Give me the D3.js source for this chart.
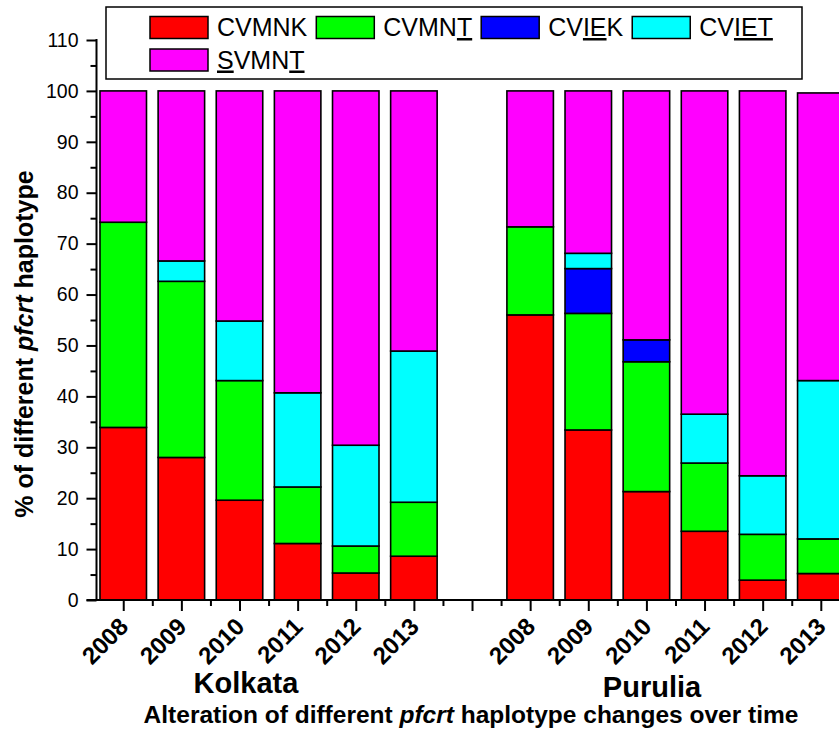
<!DOCTYPE html>
<html>
<head>
<meta charset="utf-8">
<script src="https://cdn.jsdelivr.net/npm/d3@7"></script>
<style>
  body { margin: 0; background: #fff; }
  svg { display: block; font-family: 'Liberation Sans', Arial, sans-serif; }
</style>
</head>
<body>
<svg id="chart" width="839" height="731"></svg>
<script>
// data (% of samples per haplotype)
const years = ['2008', '2009', '2010', '2011', '2012', '2013'];
const sites = ['Kolkata', 'Purulia'];
const haplotypes = ['CVMNK', 'CVMNT', 'CVIEK', 'CVIET', 'SVMNT'];
const cvmnk = [33.9, 28.0, 19.6, 11.1, 5.3, 8.6, 56.0, 33.4, 21.3, 13.5, 3.9, 5.2];
const cvmnt = [40.3, 34.6, 23.5, 11.1, 5.3, 10.6, 17.3, 22.9, 25.5, 13.4, 9.0, 6.8];
const cviek = [0, 0, 0, 0, 0, 0, 0, 8.8, 4.3, 0, 0, 0];
const cviet = [0, 4.0, 11.7, 18.5, 19.8, 29.7, 0, 3.0, 0, 9.6, 11.5, 31.1];
const svmnt = [25.8, 33.4, 45.2, 59.3, 69.6, 51.1, 26.7, 31.9, 48.9, 63.5, 75.6, 56.5];
const yTicks = [0, 10, 20, 30, 40, 50, 60, 70, 80, 90, 100, 110];
// legend text pieces, second field = underlined
const legendParts = {
  CVMNK: [['CVMNK', 0]],
  CVMNT: [['CVMN', 0], ['T', 1]],
  CVIEK: [['CV', 0], ['IE', 1], ['K', 0]],
  CVIET: [['CV', 0], ['IET', 1]],
  SVMNT: [['S', 1], ['VMN', 0], ['T', 1]]
};
const colors = ['#ff0000', '#00ff00', '#0000ff', '#00ffff', '#ff00ff'];

const svg = d3.select('#chart');

// rows: one per bar, slot 1..6 Kolkata, gap, 8..13 Purulia
const rows = [];
sites.forEach((s, si) => {
  years.forEach((yr, yi) => {
    const k = si * years.length + yi;
    rows.push({
      slot: si * (years.length + 1) + yi + 1, year: yr, site: s,
      CVMNK: cvmnk[k], CVMNT: cvmnt[k], CVIEK: cviek[k], CVIET: cviet[k], SVMNT: svmnt[k]
    });
  });
});

const axisX = 96.5;
const pitch = 58.13;
const x = d3.scaleLinear().domain([0.54, 14]).range([axisX, axisX + (14 - 0.54) * pitch]);
const y = d3.scaleLinear().domain([0, 110]).range([600, 40]);
const barW = pitch * 0.8;

const color = d3.scaleOrdinal().domain(haplotypes).range(colors);
const stacked = d3.stack().keys(haplotypes)(rows);

// bars
svg.append('g').selectAll('g')
  .data(stacked)
  .join('g')
  .attr('fill', d => color(d.key))
  .selectAll('rect')
  .data(d => d.filter(p => p[1] - p[0] > 0))
  .join('rect')
  .attr('x', d => x(d.data.slot) - barW / 2)
  .attr('y', d => y(d[1]))
  .attr('width', barW)
  .attr('height', d => y(d[0]) - y(d[1]))
  .attr('stroke', '#000')
  .attr('stroke-width', 1.6);

// y axis
const yAxis = d3.axisLeft(y).tickValues(yTicks).tickSize(10).tickPadding(8);
const gy = svg.append('g').attr('transform', 'translate(' + axisX + ',0)').call(yAxis);
gy.select('.domain').remove();
gy.selectAll('.tick line').attr('stroke-width', 2);
gy.selectAll('.tick text').style('font-size', '19.5px').attr('fill', '#000');
const yMinor = d3.axisLeft(y).tickValues(d3.range(5, 110, 10)).tickSize(6).tickFormat('');
const gym = svg.append('g').attr('transform', 'translate(' + axisX + ',0)').call(yMinor);
gym.select('.domain').remove();
gym.selectAll('.tick line').attr('stroke-width', 2);
svg.append('line')
  .attr('x1', axisX).attr('x2', axisX)
  .attr('y1', y(110) - 1).attr('y2', y(0) + 1)
  .attr('stroke', '#000').attr('stroke-width', 2);

// x axis
const slotLabel = {};
rows.forEach(r => { slotLabel[r.slot] = r.year; });
const xAxis = d3.axisBottom(x).tickValues(d3.range(1, 14)).tickSize(11)
  .tickFormat(d => slotLabel[d] || '');
const gx = svg.append('g').attr('transform', 'translate(0,' + y(0) + ')').call(xAxis);
gx.select('.domain').remove();
gx.selectAll('.tick line').attr('stroke-width', 2);
gx.selectAll('.tick text')
  .attr('y', 0).attr('dy', 0)
  .attr('transform', 'translate(6,28) rotate(-45)')
  .attr('text-anchor', 'end')
  .style('font-size', '24px').style('font-weight', 'bold').attr('fill', '#000');
const xMinor = d3.axisBottom(x).tickValues(d3.range(1.5, 14, 1)).tickSize(6).tickFormat('');
const gxm = svg.append('g').attr('transform', 'translate(0,' + y(0) + ')').call(xMinor);
gxm.select('.domain').remove();
gxm.selectAll('.tick line').attr('stroke-width', 2);
svg.append('line')
  .attr('x1', axisX - 10).attr('x2', 839)
  .attr('y1', y(0)).attr('y2', y(0))
  .attr('stroke', '#000').attr('stroke-width', 2);

// site names
svg.append('text').attr('x', 246).attr('y', 693).attr('text-anchor', 'middle')
  .style('font-size', '29px').style('font-weight', 'bold').text(sites[0]);
svg.append('text').attr('x', 652).attr('y', 697).attr('text-anchor', 'middle')
  .style('font-size', '29px').style('font-weight', 'bold').text(sites[1]);

// bottom caption
const cap = svg.append('text').attr('x', 471).attr('y', 723).attr('text-anchor', 'middle')
  .style('font-size', '24.5px').style('font-weight', 'bold');
cap.append('tspan').text('Alteration of different ');
cap.append('tspan').style('font-style', 'italic').text('pfcrt');
cap.append('tspan').text(' haplotype changes over time');

// y title
const yt = svg.append('text').attr('transform', 'translate(33,344) rotate(-90)')
  .attr('text-anchor', 'middle')
  .style('font-size', '25px').style('font-weight', 'bold');
yt.append('tspan').text('% of different ');
yt.append('tspan').style('font-style', 'italic').text('pfcrt');
yt.append('tspan').text(' haplotype');

// legend
svg.append('rect').attr('x', 106).attr('y', 7).attr('width', 696).attr('height', 72)
  .attr('fill', '#fff').attr('stroke', '#000').attr('stroke-width', 1.5);
const legendRows = [haplotypes.slice(0, 4), haplotypes.slice(4)];
legendRows.forEach((keys, ri) => {
  let lx = 150;
  const top = 16.5 + ri * 32.5;
  keys.forEach(k => {
    svg.append('rect').attr('x', lx).attr('y', top).attr('width', 58).attr('height', 22)
      .attr('fill', color(k)).attr('stroke', '#000').attr('stroke-width', 1.5);
    const t = svg.append('text').attr('x', lx + 67).attr('y', top + 19.5)
      .style('font-size', '25px');
    legendParts[k].forEach(p => {
      t.append('tspan').style('text-decoration', p[1] ? 'underline' : 'none').text(p[0]);
    });
    lx = lx + 67 + t.node().getComputedTextLength() + 9;
  });
});
</script>
</body>
</html>
